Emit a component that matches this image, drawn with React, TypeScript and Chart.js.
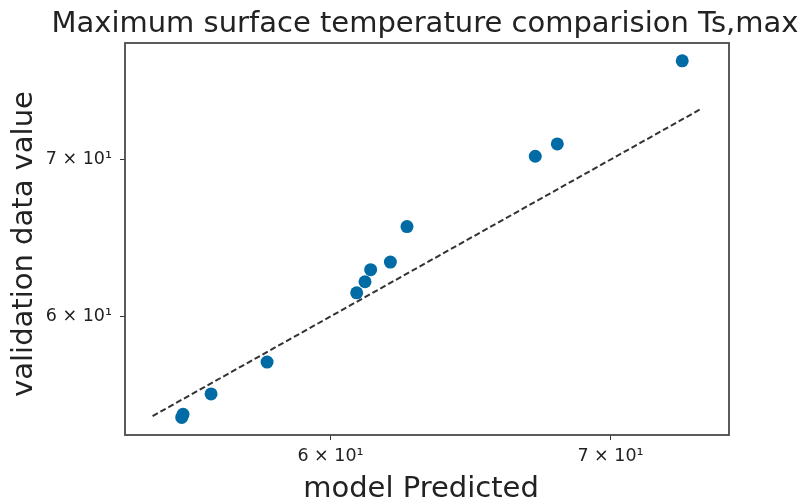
import { useEffect, useRef } from 'react';
import { Chart, registerables } from 'chart.js';

Chart.register(...registerables);

const TITLE = 'Maximum surface temperature comparision Ts,max';
const X_LABEL = 'model Predicted';
const Y_LABEL = 'validation data value';

// model predicted (x) vs validation (y)
const predicted = [55.28, 55.32, 56.18, 57.94, 60.87, 61.15, 61.34, 62.01, 62.58, 67.16, 67.98, 72.82];
const validation = [54.33, 54.5, 55.6, 57.37, 61.41, 62.08, 62.82, 63.29, 65.54, 70.23, 71.09, 77.14];

// y = x reference line
const identityRange = [54.4, 73.6];

const xLimits = [53.58, 74.72];
const yLimits = [53.4, 78.5];

const tickValues = [60, 70];
const tickLabels = ['6 × 10¹', '7 × 10¹'];

const FONT = 'DejaVu Sans';

const labelFor = (v: number) => {
  const i = tickValues.indexOf(v);
  return i >= 0 ? tickLabels[i] : '';
};

const framePlugin = {
  id: 'frame',
  beforeDraw(chart: any) {
    const { ctx, width, height } = chart;
    ctx.save();
    ctx.fillStyle = '#ffffff';
    ctx.fillRect(0, 0, width, height);
    ctx.restore();
  },
  afterDraw(chart: any) {
    const { ctx, chartArea: a } = chart;
    ctx.save();
    ctx.strokeStyle = '#4a4a4a';
    ctx.lineWidth = 1.8;
    ctx.strokeRect(a.left, a.top, a.right - a.left, a.bottom - a.top);
    ctx.font = `29px "${FONT}"`;
    ctx.fillStyle = '#222222';
    ctx.textAlign = 'center';
    ctx.textBaseline = 'alphabetic';
    ctx.fillText(TITLE, 425, 32);
    ctx.fillText(X_LABEL, 421, 497);
    // rotated y-axis label
    ctx.translate(24, 244);
    ctx.rotate(-Math.PI / 2);
    ctx.textBaseline = 'middle';
    ctx.fillText(Y_LABEL, 0, 0);
    ctx.restore();
  },
};

export default function App() {
  const ref = useRef<HTMLCanvasElement | null>(null);

  useEffect(() => {
    if (!ref.current) return;
    const scatterData = predicted.map((x, i) => ({ x, y: validation[i] }));
    const lineData = identityRange.map((v) => ({ x: v, y: v }));

    const tickFont = { family: FONT, size: 17.5 };

    const chart = new Chart(ref.current, {
      type: 'scatter',
      data: {
        datasets: [
          {
            type: 'scatter',
            data: scatterData,
            backgroundColor: '#006BA4',
            borderWidth: 0,
            pointRadius: 6.5,
            order: 0,
          },
          {
            type: 'line',
            data: lineData,
            borderColor: '#333333',
            borderWidth: 2,
            borderDash: [6, 3],
            pointRadius: 0,
            fill: false,
            showLine: true,
            order: 1,
          } as any,
        ],
      },
      options: {
        responsive: false,
        animation: false,
        layout: { padding: { left: 0, top: 43, right: 73, bottom: 0 } },
        plugins: {
          legend: { display: false },
          tooltip: { enabled: false },
          title: { display: false },
        },
        scales: {
          x: {
            type: 'logarithmic',
            position: 'bottom',
            min: xLimits[0],
            max: xLimits[1],
            afterBuildTicks: (s: any) => {
              s.ticks = tickValues.map((v) => ({ value: v }));
            },
            afterFit: (s: any) => {
              s.height = 69;
            },
            ticks: {
              callback: (v: any) => labelFor(Number(v)),
              font: tickFont,
              color: '#222222',
              padding: 6,
              maxRotation: 0,
              autoSkip: false,
            },
            grid: {
              drawOnChartArea: false,
              drawTicks: true,
              tickLength: 5,
              tickColor: '#333333',
              color: '#333333',
            },
            border: { display: false },
            title: { display: false },
          },
          y: {
            type: 'logarithmic',
            position: 'left',
            min: yLimits[0],
            max: yLimits[1],
            afterBuildTicks: (s: any) => {
              s.ticks = tickValues.map((v) => ({ value: v }));
            },
            afterFit: (s: any) => {
              s.width = 125;
            },
            ticks: {
              callback: (v: any) => labelFor(Number(v)),
              font: tickFont,
              color: '#222222',
              padding: 8,
              autoSkip: false,
            },
            grid: {
              drawOnChartArea: false,
              drawTicks: true,
              tickLength: 5,
              tickColor: '#333333',
              color: '#333333',
            },
            border: { display: false },
            title: { display: false },
          },
        },
      } as any,
      plugins: [framePlugin],
    });

    return () => chart.destroy();
  }, []);

  return (
    <div style={{ position: 'absolute', left: 0, top: 0, width: 802, height: 504 }}>
      <canvas ref={ref} width={802} height={504} style={{ display: 'block' }} />
    </div>
  );
}
